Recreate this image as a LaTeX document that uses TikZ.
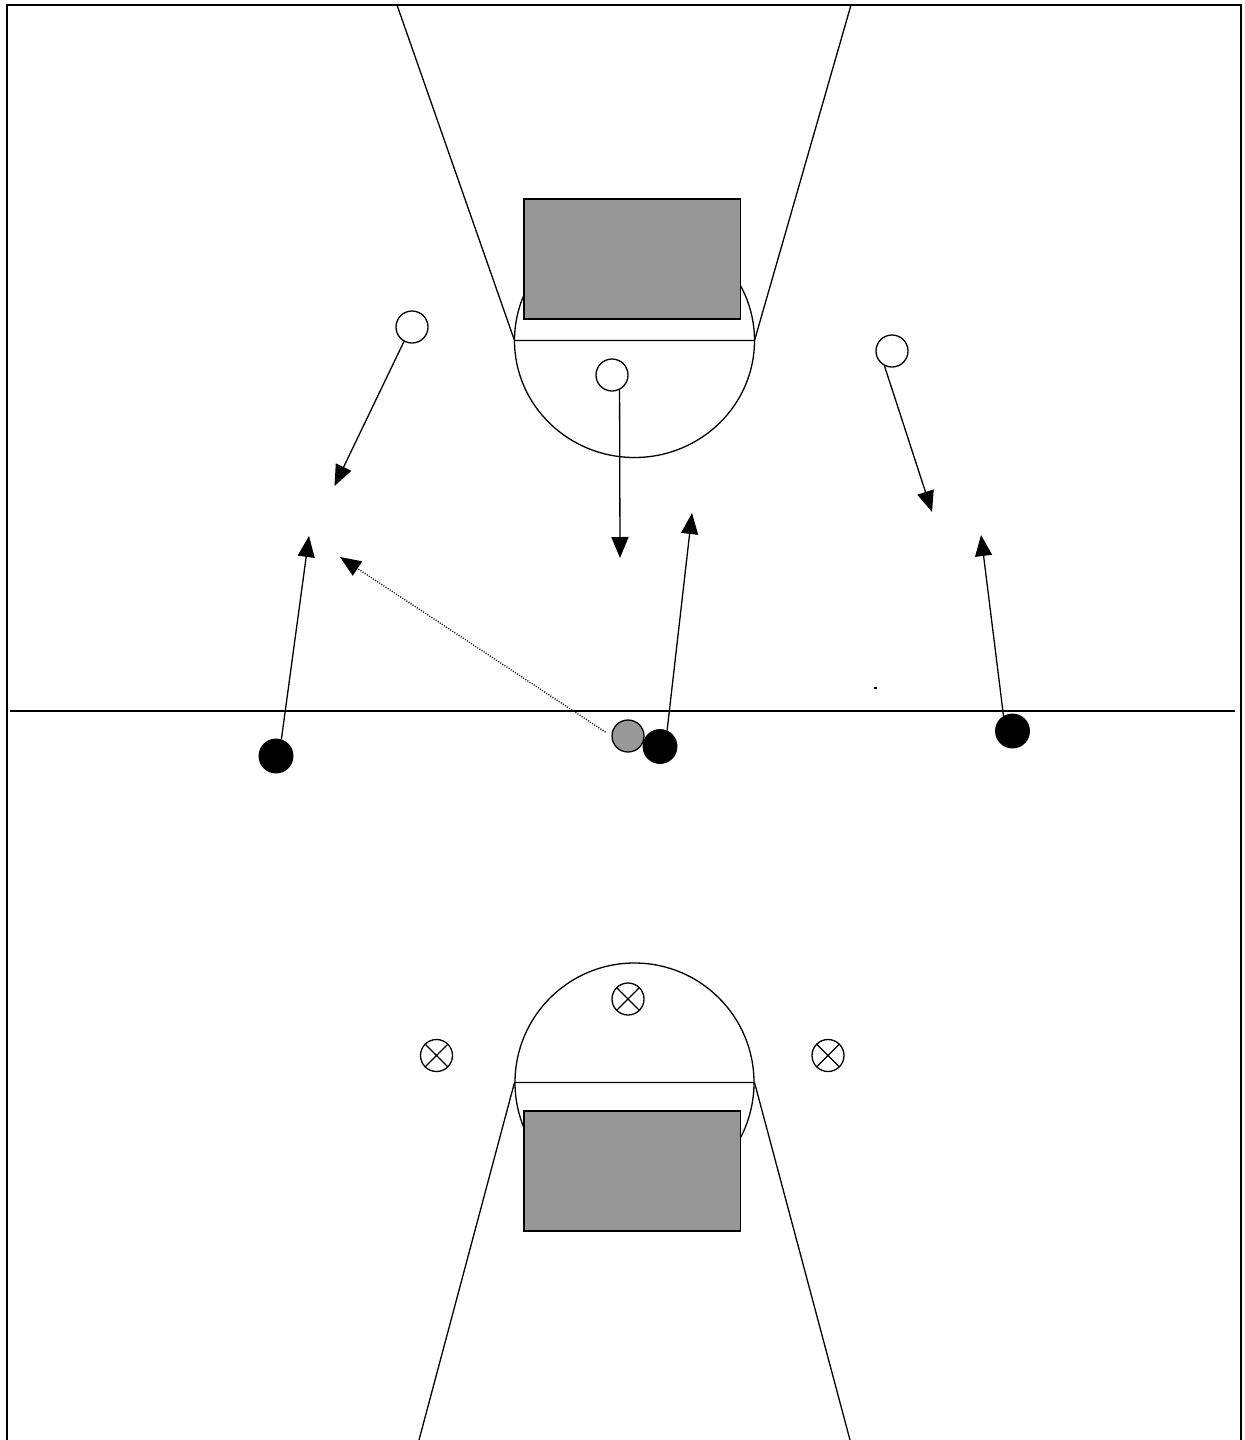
\documentclass[tikz,border=0pt]{standalone}
\usetikzlibrary{arrows.meta}
\definecolor{keygray}{HTML}{969696}
\definecolor{ballgray}{HTML}{999999}
\begin{document}
\begin{tikzpicture}[x=0.5pt,y=-0.5pt,
  court/.style={line width=0.65pt},
  frame/.style={line width=1.1pt},
  keybox/.style={draw, fill=keygray, line width=0.65pt},
  player/.style={circle, draw, minimum size=16pt, inner sep=0pt, line width=0.65pt},
  offense/.style={player, fill=white},
  attacker/.style={player, fill=black, minimum size=16.8pt},
  ballnode/.style={player, fill=ballgray},
  defender/.style={player, fill=white, path picture={
      \draw[line width=0.65pt] (path picture bounding box.north west) -- (path picture bounding box.south east)
            (path picture bounding box.north east) -- (path picture bounding box.south west);}},
  move/.style={-{Triangle[length=10.5pt,width=8.5pt]}, line width=0.65pt},
  pass/.style={move, dash pattern=on 0.5pt off 0.75pt}]
\useasboundingbox (0,0) rectangle (1244,1440);

% frame and midline
\draw[frame] (7,1440) -- (7,5) -- (1241,5) -- (1241,1440);
\draw[court] (10,711) -- (1235,711);

% top half court
\draw[court] (634.5,340.5) ellipse (120 and 117);
\draw[court] (397,5) -- (514.5,340.5) -- (754.5,340.5) -- (851,5);
\draw[keybox] (524,199) rectangle (740.5,319);

% bottom half court
\draw[court] (634.5,1082.5) circle (119.5);
\draw[court] (419,1440) -- (514.5,1082.5) -- (754.5,1082.5) -- (850,1440);
\draw[keybox] (524,1111) rectangle (740.5,1231);

% stray mark
\fill (874,687) rectangle (877,689);

% players
\node[offense] (o1) at (412,327) {};
\node[offense] (o2) at (612,375) {};
\node[offense] (o3) at (892,351) {};
\node[attacker] (a1) at (276,756) {};
\node[attacker] (a2) at (660,746.5) {};
\node[attacker] (a3) at (1012.5,731) {};
\node[ballnode] (ball) at (628,736) {};
\node[defender] (d1) at (628,999) {};
\node[defender] (d2) at (436.5,1055.5) {};
\node[defender] (d3) at (828,1055.5) {};

% arrow targets
\coordinate (t1) at (334.5,486);
\coordinate (t2) at (620,558);
\coordinate (t3) at (932,512);
\coordinate (t4) at (309,536);
\coordinate (t5) at (692,513);
\coordinate (t6) at (981,535);
\coordinate (t7) at (340,557);

% movements
\draw[move] (o1.-119) -- (t1);
\draw[move] (o2.-63) -- (t2);
\draw[move] (o3.-117) -- (t3);
\draw[move] (a1.72) -- (t4);
\draw[move] (a2.66) -- (t5);
\draw[move] (a3.121) -- (t6);
\draw[pass, shorten <=3.5pt] (ball.west) -- (t7);
\end{tikzpicture}
\end{document}
